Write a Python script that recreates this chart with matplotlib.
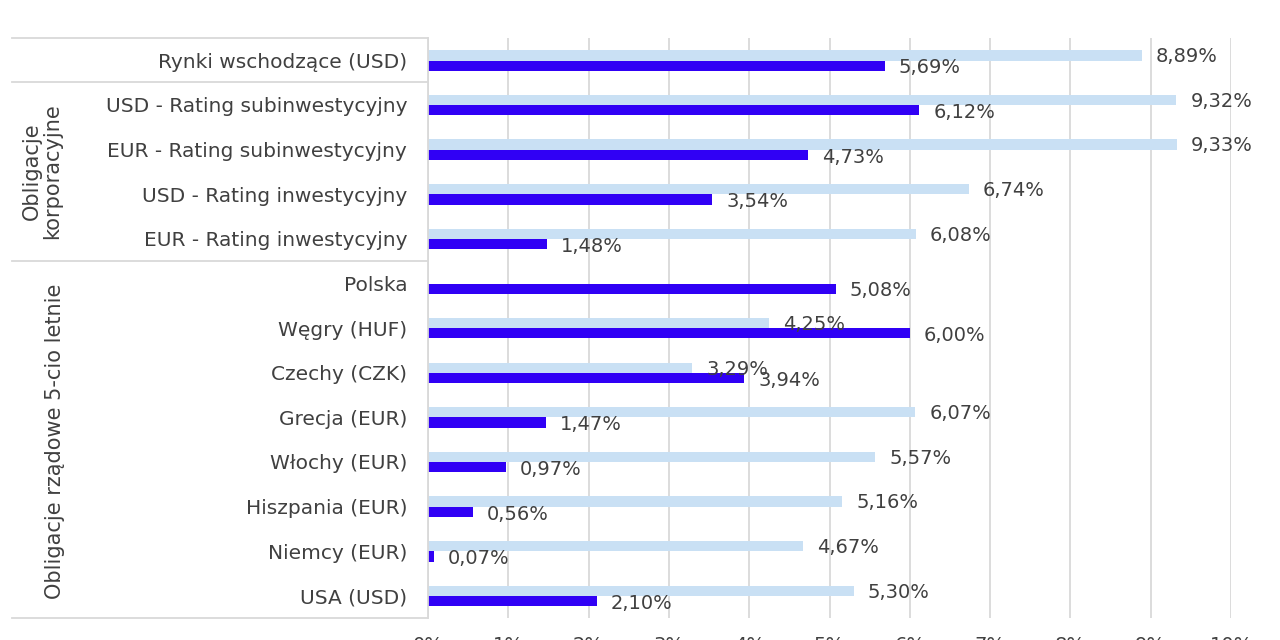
import matplotlib
matplotlib.use('Agg')
import matplotlib.pyplot as plt
import numpy as np
from matplotlib.lines import Line2D

plt.rcParams['font.family'] = ['DejaVu Sans']

categories = ['Rynki wschodzące (USD)',
              'USD - Rating subinwestycyjny', 'EUR - Rating subinwestycyjny',
              'USD - Rating inwestycyjny', 'EUR - Rating inwestycyjny',
              'Polska', 'Węgry (HUF)', 'Czechy (CZK)', 'Grecja (EUR)',
              'Włochy (EUR)', 'Hiszpania (EUR)', 'Niemcy (EUR)', 'USA (USD)']
prev_vals = [8.89, 9.32, 9.33, 6.74, 6.08, np.nan, 4.25, 3.29, 6.07, 5.57, 5.16, 4.67, 5.30]
curr_vals = [5.69, 6.12, 4.73, 3.54, 1.48, 5.08, 6.00, 3.94, 1.47, 0.97, 0.56, 0.07, 2.10]
xticks = list(range(0, 11))
group_labels = ['Obligacje\nkorporacyjne', 'Obligacje rządowe 5-cio letnie']

light = '#c9e0f4'
dark = '#3000f5'
txt = '#404040'
grid = '#d9d9d9'

W, H = 1280, 640
fig = plt.figure(figsize=(12.8, 6.4), dpi=100)
ax = fig.add_axes([428 / W, 1 - 618 / H, (1231 - 428) / W, (618 - 38) / H])

y = np.arange(len(categories))
h = 0.23
ax.barh(y - 0.11, prev_vals, height=h, color=light, zorder=2)
ax.barh(y + 0.12, curr_vals, height=h, color=dark, zorder=2)

def fmt(v):
    return ('%.2f%%' % v).replace('.', ',')

for yi, v in zip(y, prev_vals):
    if not np.isnan(v):
        ax.annotate(fmt(v), (v, yi - 0.08), xytext=(10, 0), textcoords='offset points',
                    va='center', ha='left', fontsize=14, color=txt, zorder=3)
for yi, v in zip(y, curr_vals):
    ax.annotate(fmt(v), (v, yi + 0.17), xytext=(10, 0), textcoords='offset points',
                va='center', ha='left', fontsize=14, color=txt, zorder=3)

ax.set_ylim(len(categories) - 0.5, -0.5)
ax.set_xlim(0, 10)
ax.set_xticks(xticks)
ax.set_xticklabels(['%d%%' % t for t in xticks], fontsize=14, color=txt)
ax.set_yticks(y)
ax.set_yticklabels(categories, fontsize=14.5, color=txt)
ax.tick_params(axis='y', length=0, pad=15)
ax.tick_params(axis='x', length=0, pad=13)
ax.grid(axis='x', color=grid, linewidth=1.3, zorder=0)
for s in ['top', 'right', 'bottom']:
    ax.spines[s].set_visible(False)
ax.spines['left'].set_color(grid)
ax.spines['left'].set_linewidth(1.3)

# category table lines on the left
for py in [38, 82, 261, 618]:
    fig.add_artist(Line2D([12 / W, 428 / W], [1 - py / H, 1 - py / H],
                          color=grid, linewidth=1.3))

fig.text(42 / W, 1 - 171 / H, group_labels[0], rotation=90, ha='center', va='center',
         fontsize=15, color=txt, linespacing=1.05)
fig.text(55 / W, 1 - 441 / H, group_labels[1], rotation=90, ha='center', va='center',
         fontsize=15, color=txt)

fig.savefig('out.png', dpi=100)
